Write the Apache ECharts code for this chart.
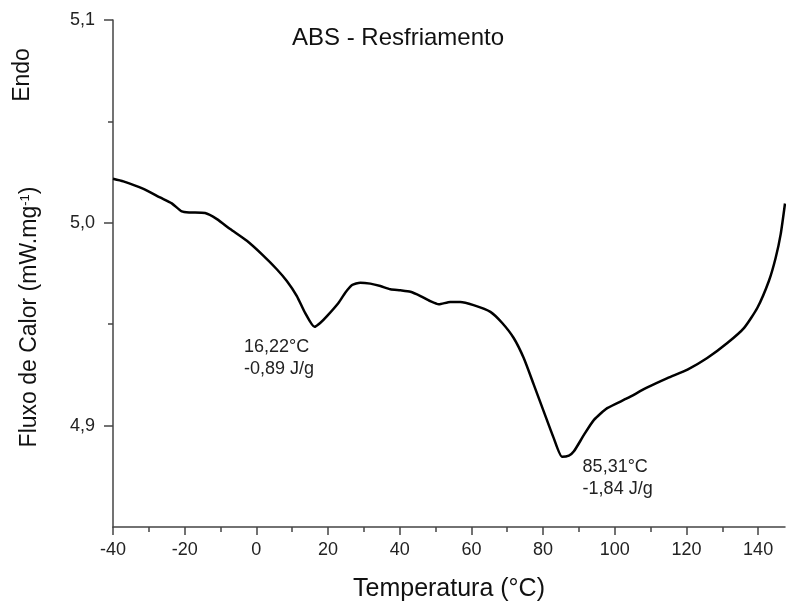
<!DOCTYPE html>
<html>
<head>
<meta charset="utf-8">
<title>ABS - Resfriamento</title>
<script src="https://cdn.jsdelivr.net/npm/echarts@6/dist/echarts.min.js"></script>
<style>
  html, body { margin: 0; padding: 0; background: #fff; }
  #chart { width: 786px; height: 606px; }
</style>
</head>
<body>
<div id="chart"></div>
<script>
// DSC cooling curve of ABS: heat flow versus temperature
const temperature = [-40, -37.1, -31.5, -26.9, -23.6, -20.8, -18.5, -14.3, -11.0, -7.3,
  -2.65, 2.0, 5.7, 8.5, 11.3, 13.6, 16.22, 17.8, 19.7, 22.9,
  24.8, 26.7, 29.0, 31.8, 34.6, 37.4, 40.2, 43.0, 45.8, 48.5,
  50.9, 54.1, 56.9, 60.6, 65.3, 68.6, 71.8, 74.6, 77.4, 80.2,
  83.0, 85.31, 87.2, 88.6, 91.4, 94.2, 97.9, 103.5, 109.1, 114.7,
  120.3, 125.8, 131.4, 136.1, 139.8, 143.0, 144.9, 146.3, 147.5];
const heatFlow = [5.0217, 5.0204, 5.0167, 5.0125, 5.0096, 5.0056, 5.0051, 5.0048, 5.0018, 4.9969,
  4.9911, 4.9837, 4.9771, 4.9713, 4.9639, 4.9556, 4.9487, 4.9506, 4.9540, 4.9605,
  4.9655, 4.9693, 4.9705, 4.9700, 4.9688, 4.9672, 4.9667, 4.9660, 4.9639, 4.9614,
  4.9598, 4.9610, 4.9610, 4.9594, 4.9561, 4.9506, 4.9432, 4.9333, 4.9202, 4.9069,
  4.8937, 4.8846, 4.8852, 4.8873, 4.8954, 4.9028, 4.9086, 4.9135, 4.9188, 4.9234,
  4.9276, 4.9333, 4.9407, 4.9482, 4.9581, 4.9713, 4.9828, 4.9944, 5.0095];

// Crystallization peaks: temperature (°C) and enthalpy (J/g)
const peakTemps = [16.22, 85.31];
const peakEnthalpy = [-0.89, -1.84];

// Axis ticks
const xMajorTicks = [-40, -20, 0, 20, 40, 60, 80, 100, 120, 140];
const xMinorTicks = [-30, -10, 10, 30, 50, 70, 90, 110, 130];
const yMajorTicks = [4.9, 5.0, 5.1];
const yMinorTicks = [4.95, 5.05];

const X_MIN = -40, X_MAX = 147.5, Y_MIN = 4.85, Y_MAX = 5.1;
const AXIS_COLOR = '#444';
const TEXT_COLOR = '#222';
const FONT = '"Liberation Sans", Arial, sans-serif';

const comma = (v, d) => v.toFixed(d).replace('.', ',');

const chart = echarts.init(document.getElementById('chart'), null, { renderer: 'canvas' });

const points = temperature.map((t, i) => [t, heatFlow[i]]);

// Peak labels sit beside the minimum of each peak
const labelOffsets = [[-70, 10], [21, 0]];
const peakMarks = peakTemps.map((t, k) => {
  const i = temperature.indexOf(t);
  return {
    coord: [t, heatFlow[i]],
    label: {
      position: labelOffsets[k],
      formatter: comma(t, 2) + '°C\n' + comma(peakEnthalpy[k], 2) + ' J/g'
    }
  };
});

const baseX = {
  type: 'value', min: X_MIN, max: X_MAX, gridIndex: 0,
  splitLine: { show: false }
};
const baseY = {
  type: 'value', min: Y_MIN, max: Y_MAX, gridIndex: 0,
  splitLine: { show: false }
};

chart.setOption({
  animation: false,
  backgroundColor: '#fff',
  grid: { left: 113, right: 1, top: 20, bottom: 79, containLabel: false, outerBoundsMode: 'none' },
  xAxis: [
    Object.assign({}, baseX, {
      position: 'bottom',
      axisLine: { show: true, onZero: false, lineStyle: { color: AXIS_COLOR, width: 1.5 } },
      axisTick: { show: true, customValues: xMajorTicks, length: 8, lineStyle: { color: AXIS_COLOR, width: 1.5 } },
      axisLabel: { customValues: xMajorTicks, margin: 14, color: TEXT_COLOR, fontSize: 18, fontFamily: FONT },
      name: 'Temperatura (°C)',
      nameLocation: 'middle',
      nameGap: 50,
      nameTextStyle: { color: '#111', fontSize: 25, fontFamily: FONT }
    }),
    Object.assign({}, baseX, {
      position: 'bottom',
      axisLine: { show: false, onZero: false },
      axisTick: { show: true, customValues: xMinorTicks, length: 5, lineStyle: { color: AXIS_COLOR, width: 1.5 } },
      axisLabel: { show: false }
    })
  ],
  yAxis: [
    Object.assign({}, baseY, {
      position: 'left',
      axisLine: { show: true, onZero: false, lineStyle: { color: AXIS_COLOR, width: 1.5 } },
      axisTick: { show: true, customValues: yMajorTicks, length: 9, lineStyle: { color: AXIS_COLOR, width: 1.5 } },
      axisLabel: {
        customValues: yMajorTicks, margin: 18, color: TEXT_COLOR, fontSize: 18, fontFamily: FONT,
        formatter: v => comma(v, 1)
      }
    }),
    Object.assign({}, baseY, {
      position: 'left',
      axisLine: { show: false, onZero: false },
      axisTick: { show: true, customValues: yMinorTicks, length: 5, lineStyle: { color: AXIS_COLOR, width: 1.5 } },
      axisLabel: { show: false }
    })
  ],
  graphic: [
    {
      type: 'text', x: 398, y: 38,
      style: { text: 'ABS - Resfriamento', fill: '#111', font: '24px ' + FONT, align: 'center', verticalAlign: 'middle' }
    },
    {
      type: 'text', x: 23, y: 75, rotation: Math.PI / 2,
      style: { text: 'Endo', fill: '#111', font: '23px ' + FONT, align: 'center', verticalAlign: 'middle' }
    },
    {
      type: 'text', x: 30, y: 317, rotation: Math.PI / 2,
      style: {
        text: 'Fluxo de Calor (mW.mg{sup|-1})',
        fill: '#111', font: '23px ' + FONT, align: 'center', verticalAlign: 'middle',
        rich: {
          sup: { fontSize: 13, fontFamily: FONT, fill: '#111', verticalAlign: 'top', lineHeight: 13 }
        }
      }
    }
  ],
  series: [{
    type: 'line',
    xAxisIndex: 0,
    yAxisIndex: 0,
    data: points,
    showSymbol: false,
    smooth: 0.2,
    lineStyle: { color: '#000', width: 2.5 },
    markPoint: {
      symbol: 'circle',
      symbolSize: 1,
      itemStyle: { color: 'rgba(0,0,0,0)' },
      label: {
        show: true, align: 'left', verticalAlign: 'top',
        color: TEXT_COLOR, fontSize: 18, lineHeight: 22, fontFamily: FONT
      },
      data: peakMarks
    }
  }]
});
</script>
</body>
</html>
